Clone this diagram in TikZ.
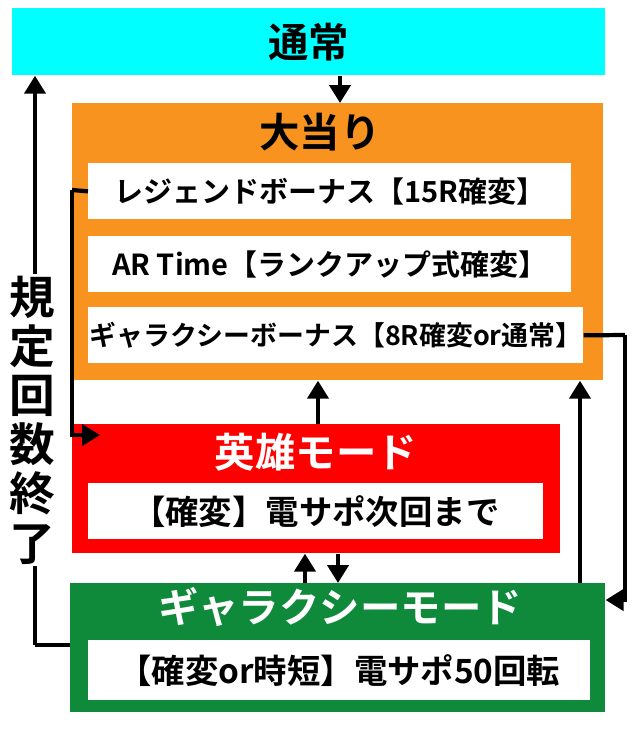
\documentclass[tikz,border=0pt]{standalone}
\usepackage{fontspec}
\setmainfont{Noto Sans CJK JP Bold}
\usetikzlibrary{positioning,arrows.meta}
\definecolor{normalcyan}{HTML}{00FFFF}
\definecolor{hitorange}{HTML}{F7931E}
\definecolor{galgreen}{HTML}{0E8A3A}
\begin{document}
\begin{tikzpicture}[
  x=0.02cm, y=-0.02cm,
  panel/.style = {
    draw=none,
    shape=rectangle,
    anchor=north west,
    inner sep=0pt
  },
  item/.style = {
    panel,
    fill=white,
    minimum height=1.12cm
  },
  flow/.style = {-{Triangle[length=3.6mm,width=4.2mm]}, line width=2.4pt}
]
  \useasboundingbox (0,0) rectangle (640,731);
  \node (normal)[panel, fill=normalcyan, minimum width=11.86cm, minimum height=1.34cm] at (12,8) {};
  \node at (normal.center) {\fontsize{23}{23}\selectfont 通常};
  \node (hit)[panel, fill=hitorange, minimum width=10.62cm, minimum height=5.54cm] at (72,103) {};
  \node at (320,132) {\fontsize{23}{23}\selectfont 大当り};
  \node (legend)[item, minimum width=9.66cm] at (88,163) {};
  \node at (legend.center) {\fontsize{16.5}{16.5}\selectfont レジェンドボーナス【15R確変】};
  \node (artime)[item, minimum width=9.66cm] at (88,236) {};
  \node at (artime.center) {\fontsize{16.5}{16.5}\selectfont AR Time【ランクアップ式確変】};
  \node (galbonus)[item, minimum width=9.9cm] at (88,307) {};
  \node at (galbonus.center) {\fontsize{15.3}{15.3}\selectfont ギャラクシーボーナス【8R確変or通常】};
  \node (hero)[panel, fill=red, minimum width=9.76cm, minimum height=2.58cm] at (72,424) {};
  \node[text=white] at (316,452) {\fontsize{23}{23}\selectfont 英雄モード};
  \node (herotext)[item, minimum width=9.1cm] at (88,483) {};
  \node at (herotext.center) {\fontsize{19}{19}\selectfont 【確変】電サポ次回まで};
  \node (galaxy)[panel, fill=galgreen, minimum width=10.7cm, minimum height=2.58cm] at (70,583) {};
  \node[text=white] at (340,607) {\fontsize{23}{23}\selectfont ギャラクシーモード};
  \node (galtext)[item, minimum width=10.04cm, minimum height=1.2cm] at (88,640) {};
  \node at (galtext.center) {\fontsize{19}{19}\selectfont 【確変or時短】電サポ50回転};

  \coordinate (lt) at (72,190);
  \coordinate (rt) at (625,335);
  \coordinate (ll) at (35,645);
  \draw[flow] (normal.south -| 340,0) -- (hit.north -| 340,0);
  \draw[line width=2.4pt] (legend.west) -- (lt);
  \draw[flow] (lt) |- (100,435);
  \draw[flow] (hero.north -| 318,0) -- (hit.south -| 318,0);
  \draw[flow] (galaxy.north -| 305,0) -- (hero.south -| 305,0);
  \draw[flow] (hero.south -| 338,0) -- (galaxy.north -| 338,0);
  \draw[flow] (galaxy.north -| 580,0) -- (hit.south -| 580,0);
  \draw[line width=2.4pt] (galbonus.east) -- (rt);
  \draw[flow] (rt) |- (galaxy.east |- 0,600);
  \draw[line width=2.4pt] (galaxy.west |- ll) -- (ll);
  \draw[flow] (ll) -- (normal.south -| ll);
  \node (limit)[fill=white, inner sep=1pt, align=center, font=\fontsize{26}{28}\selectfont] at (32,420) {規\\定\\回\\数\\終\\了};
\end{tikzpicture}
\end{document}
